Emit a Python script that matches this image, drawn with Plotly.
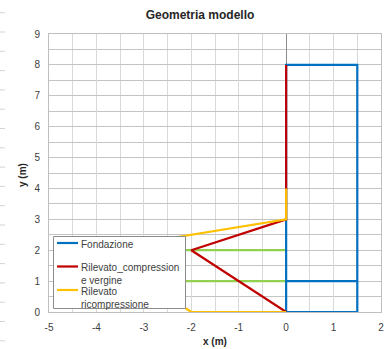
import plotly.graph_objects as go

# --- geometry of the model (metres) ---
fond_x = [0, 1.5, 1.5, 0, 0, None, 0, 1.5]
fond_y = [0, 0, 8, 8, 0, None, 1, 1]

verg_x = [0, 0, -2, 0]
verg_y = [8, 3, 2, 0]

ricomp_x = [0, 0, -4, -2, 0]
ricomp_y = [4, 3, 2, 0, 0]

strati_x = [-4, 0, None, -3, 0]
strati_y = [2, 2, None, 1, 1]

series_names = ["Fondazione", "Rilevato_compression<br>e vergine", "Rilevato<br>ricompressione"]
series_colors = ["#0070C0", "#C00000", "#FFC000"]
green = "#92D050"

x_ticks = [-5, -4, -3, -2, -1, 0, 1, 2]
y_ticks = [0, 1, 2, 3, 4, 5, 6, 7, 8, 9]

W, H = 384, 349
ML, MR, MT, MB = 49, 3, 34, 37
PW, PH = W - ML - MR, H - MT - MB
FONT = "Arial, Liberation Sans, sans-serif"


def px_x(px):
    return (px - ML) / PW


def px_y(py):
    return (H - MB - py) / PH


fig = go.Figure()
fig.add_trace(go.Scatter(x=strati_x, y=strati_y, mode="lines",
                         line=dict(color=green, width=2.2), showlegend=False))
fig.add_trace(go.Scatter(x=fond_x, y=fond_y, mode="lines",
                         line=dict(color=series_colors[0], width=2.2), showlegend=False))
fig.add_trace(go.Scatter(x=verg_x, y=verg_y, mode="lines",
                         line=dict(color=series_colors[1], width=2.2), showlegend=False))
fig.add_trace(go.Scatter(x=ricomp_x, y=ricomp_y, mode="lines",
                         line=dict(color=series_colors[2], width=2.2), showlegend=False))

shapes = []
annotations = []

# legend box with line samples
lx0, lx1, ly0, ly1 = 53.5, 185.5, 236.5, 308.5
shapes.append(dict(type="rect", xref="paper", yref="paper",
                   x0=px_x(lx0), x1=px_x(lx1), y0=px_y(ly1), y1=px_y(ly0),
                   fillcolor="white", line=dict(color="#8c8c8c", width=1), layer="above"))
entry_y = [243, 266.5, 290]
for name, col, ey in zip(series_names, series_colors, entry_y):
    shapes.append(dict(type="line", xref="paper", yref="paper",
                       x0=px_x(57), x1=px_x(78), y0=px_y(ey), y1=px_y(ey),
                       line=dict(color=col, width=2.2), layer="above"))
    annotations.append(dict(text=name, xref="paper", yref="paper",
                            x=px_x(79), y=px_y(ey - 6.5), xanchor="left", yanchor="top",
                            align="left", showarrow=False,
                            font=dict(family=FONT, size=10, color="#404040")))

# faint cell lines at the left margin
for k in range(18):
    py = 12.7 + 19.3 * k
    shapes.append(dict(type="line", xref="paper", yref="paper",
                       x0=px_x(0), x1=px_x(5), y0=px_y(py), y1=px_y(py),
                       line=dict(color="#d4d4d4", width=1)))

# axis titles
annotations.append(dict(text="<b>y (m)</b>", xref="paper", yref="paper",
                        x=px_x(22), y=px_y(175), textangle=-90, showarrow=False,
                        xanchor="center", yanchor="middle",
                        font=dict(family=FONT, size=10, color="#262626")))
annotations.append(dict(text="<b>x (m)</b>", xref="paper", yref="paper",
                        x=px_x(215), y=px_y(341.5), showarrow=False,
                        xanchor="center", yanchor="middle",
                        font=dict(family=FONT, size=10, color="#262626")))

fig.update_layout(
    width=W, height=H,
    margin=dict(l=ML, r=MR, t=MT, b=MB),
    paper_bgcolor="white", plot_bgcolor="white",
    title=dict(text="<b>Geometria modello</b>", x=200 / W, xanchor="center",
               y=1 - 15 / H, yanchor="middle",
               font=dict(family=FONT, size=12, color="#262626")),
    shapes=shapes, annotations=annotations, showlegend=False,
    xaxis=dict(range=[-5, 2], tickvals=x_ticks, ticktext=[str(v) for v in x_ticks],
               showgrid=True, gridcolor="#d9d9d9", gridwidth=1,
               minor=dict(dtick=0.5, showgrid=True, gridcolor="#d9d9d9", gridwidth=1),
               zeroline=True, zerolinecolor="#8c8c8c", zerolinewidth=1,
               showline=True, mirror=True, linecolor="#bfbfbf", linewidth=1,
               ticks="outside", ticklen=6, tickcolor="rgba(0,0,0,0)",
               ticklabeloverflow="allow", automargin=False,
               tickfont=dict(family=FONT, size=10, color="#404040")),
    yaxis=dict(range=[0, 9], tickvals=y_ticks, ticktext=[str(v) for v in y_ticks],
               showgrid=True, gridcolor="#c4c4c4", gridwidth=1,
               minor=dict(dtick=0.5, showgrid=True, gridcolor="#c4c4c4", gridwidth=1),
               zeroline=False,
               showline=True, mirror=True, linecolor="#bfbfbf", linewidth=1,
               ticks="outside", ticklen=6, tickcolor="rgba(0,0,0,0)",
               automargin=False,
               tickfont=dict(family=FONT, size=10, color="#404040")),
)

fig.write_html("out.html")
